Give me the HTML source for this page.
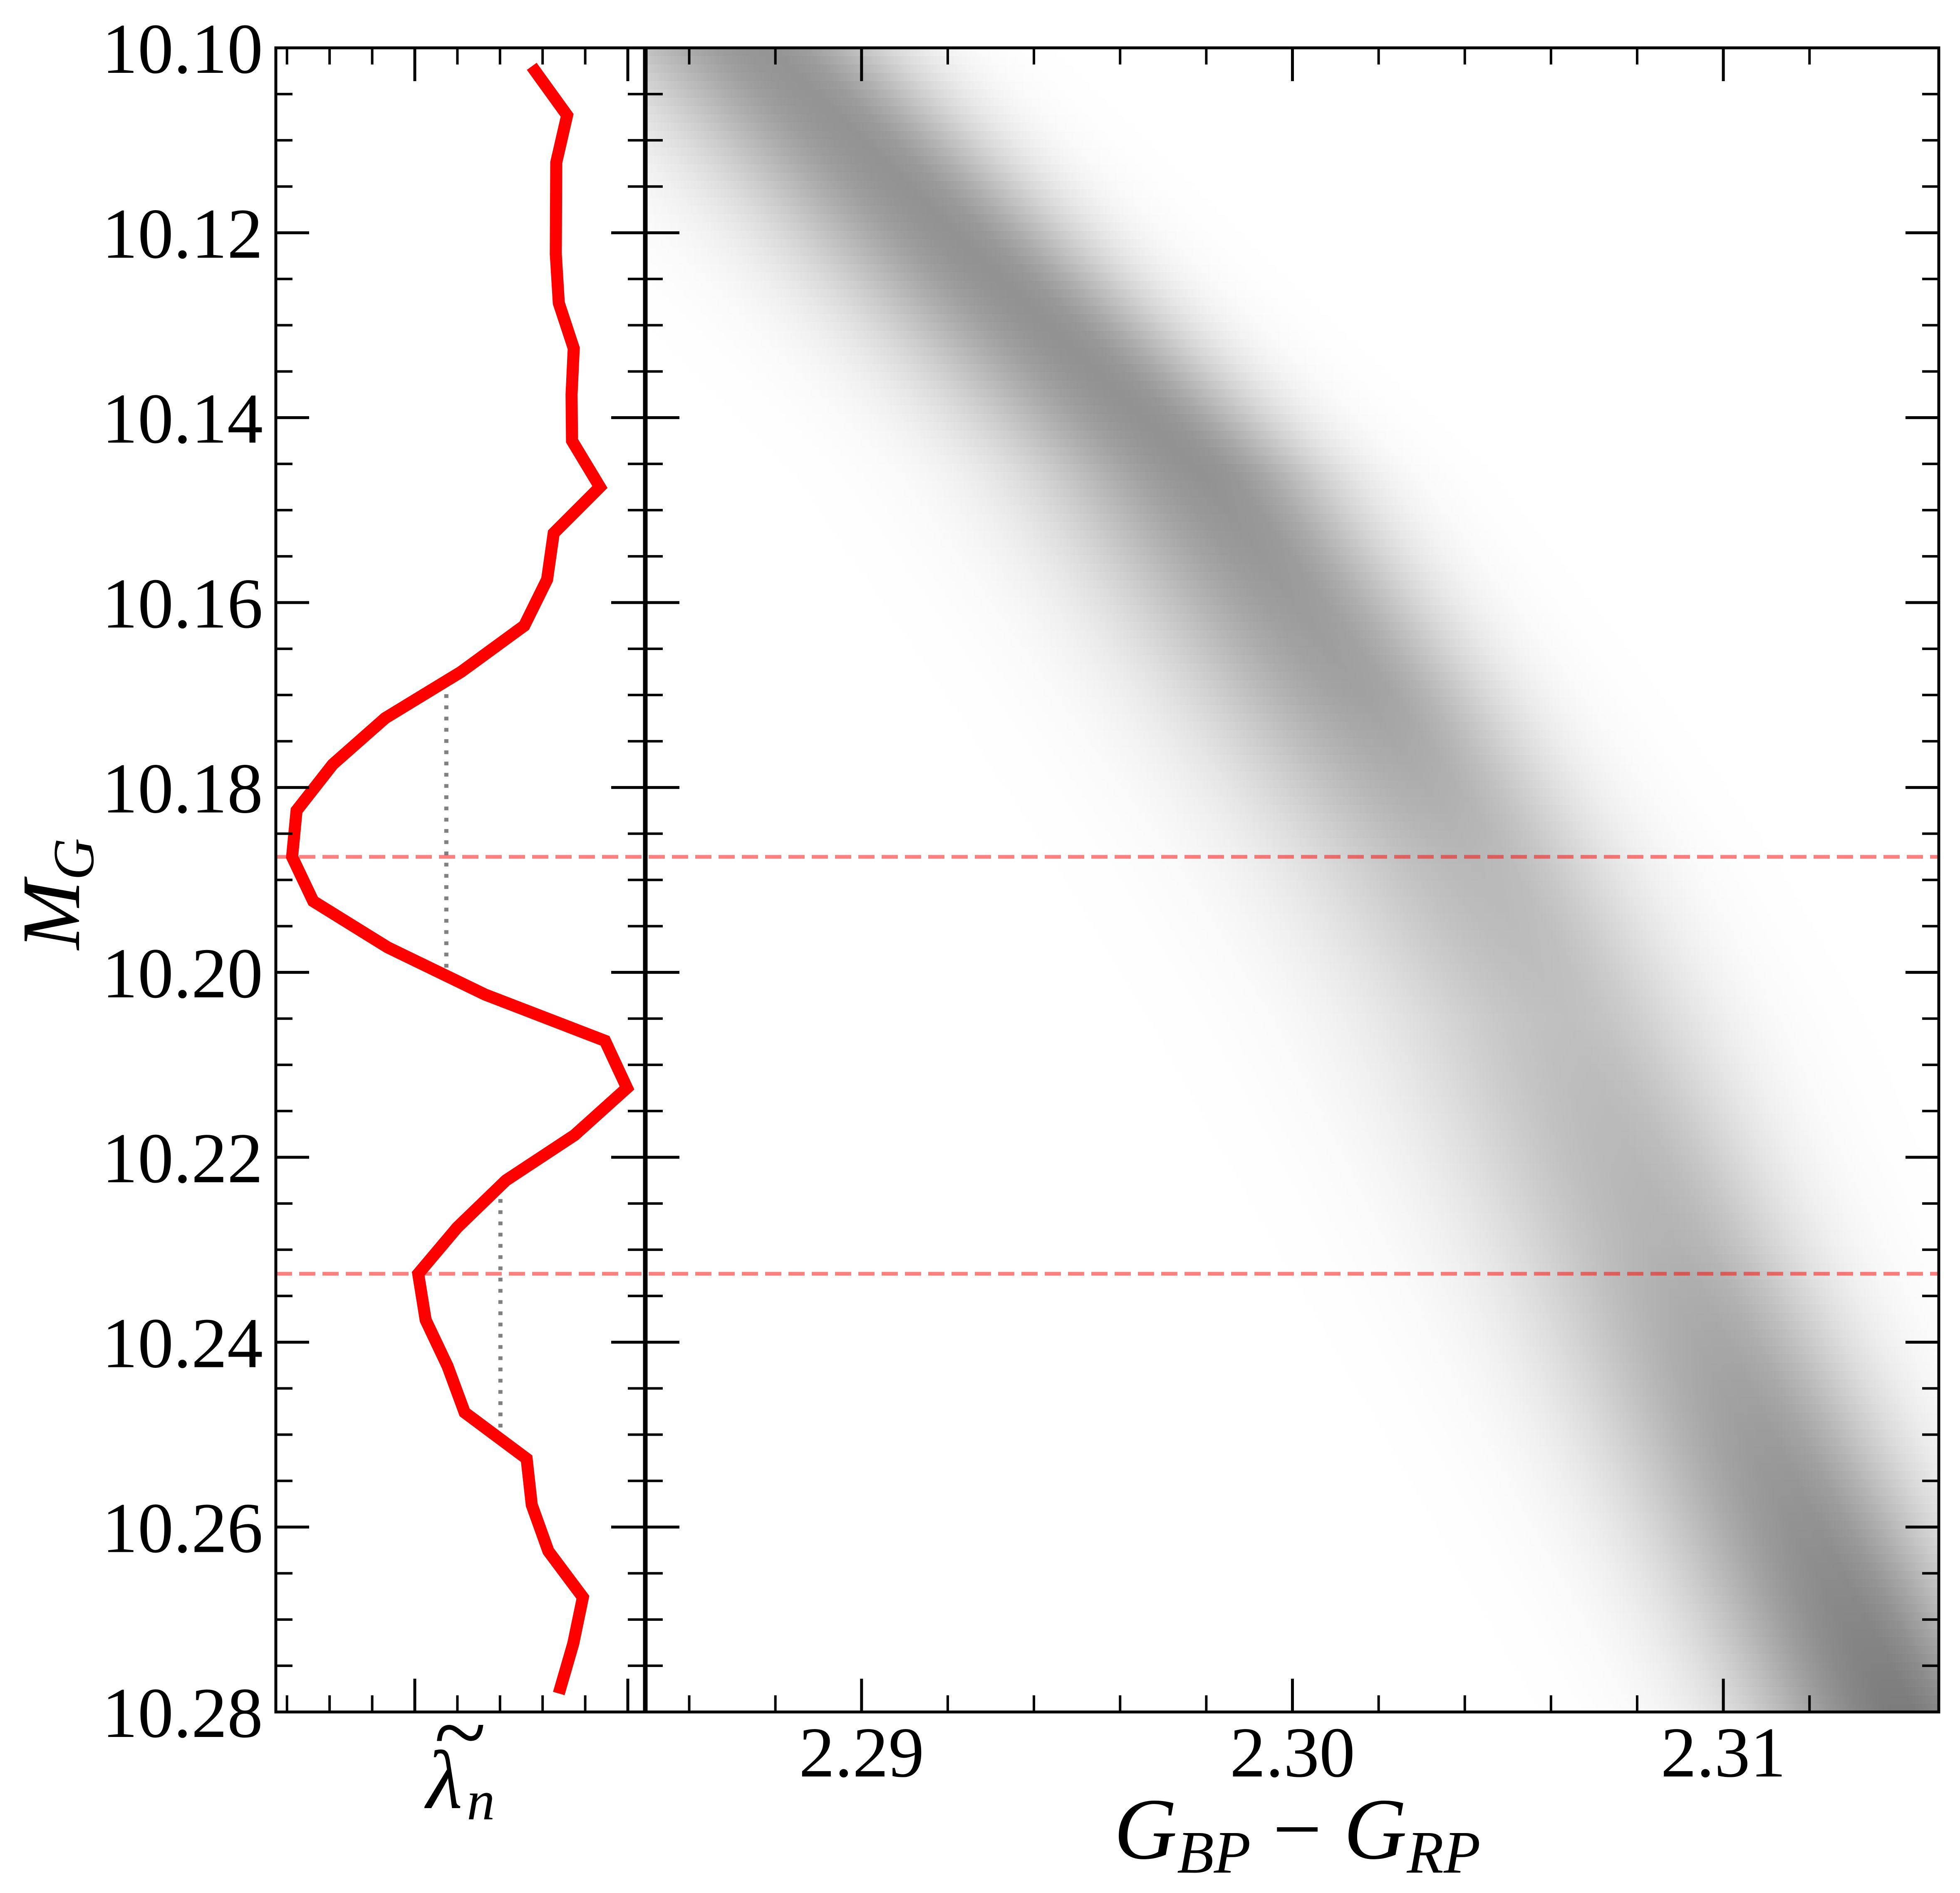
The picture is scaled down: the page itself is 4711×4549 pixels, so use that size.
<!DOCTYPE html>
<html><head><meta charset="utf-8"><title>Chart</title>
<style>html,body{margin:0;padding:0;background:#fff}svg{display:block}</style></head>
<body>
<svg id="chart" width="4711" height="4549" viewBox="0 0 4711 4549" xmlns="http://www.w3.org/2000/svg">
<rect x="0" y="0" width="4711" height="4549" fill="#fff"/>
<defs id="defs"></defs>
<g id="band"></g>
<g id="lefts"></g>
<g id="hl"></g>
<g id="ticks"></g>
<rect x="663" y="115" width="886" height="3999" fill="none" stroke="#000" stroke-width="7"/>
<rect x="1553" y="115" width="3107" height="3999" fill="none" stroke="#000" stroke-width="7"/>
<g id="ylabels" font-family="'Liberation Serif', serif" font-size="172" text-anchor="end"></g>
<g id="xlabels" font-family="'Liberation Serif', serif" font-size="172" text-anchor="middle"></g>
<text x="190" y="2148" transform="rotate(-90 190 2148)" text-anchor="middle" font-family="'Liberation Serif', serif" font-style="italic" font-size="200">M<tspan font-size="140" dy="34">G</tspan></text>
<text x="3118" y="4466" text-anchor="middle" font-family="'Liberation Serif', serif" font-size="210"><tspan font-style="italic">G</tspan><tspan font-style="italic" font-size="145" dy="34">BP</tspan><tspan dy="-34"> − </tspan><tspan font-style="italic">G</tspan><tspan font-style="italic" font-size="145" dy="34">RP</tspan></text>
<g font-family="'Liberation Serif', serif">
<text x="1068" y="4345" text-anchor="middle" font-style="italic" font-size="200">λ</text>
<text x="1106" y="4240" text-anchor="middle" font-size="230">~</text>
<text x="1122" y="4372" font-style="italic" font-size="135">n</text>
</g>
</svg>
<script>
// ---- data ----
const lamY = [10.1020,10.1073,10.1124,10.1223,10.1276,10.1325,10.1375,10.1425,10.1475,10.1525,10.1575,10.1625,10.1675,10.1725,10.1775,10.1825,10.1875,10.1923,10.1973,10.2024,10.2074,10.2125,10.2176,10.2225,10.2276,10.2326,10.2376,10.2426,10.2476,10.2526,10.2576,10.2626,10.2676,10.2726,10.2780];
const lamX = [1.549,1.715,1.664,1.662,1.676,1.746,1.736,1.738,1.869,1.652,1.621,1.514,1.217,0.861,0.615,0.445,0.424,0.523,0.873,1.330,1.893,1.996,1.750,1.428,1.199,1.016,1.051,1.154,1.234,1.525,1.549,1.627,1.789,1.744,1.676];
const dotX = [1.148, 1.402];
const dotY0 = [10.1687, 10.2233];
const dotY1 = [10.2000, 10.2496];
const hLines = [10.1875, 10.2326];
const bandY = [10.100,10.123,10.146,10.170,10.188,10.205,10.229,10.252,10.280];
const bandX = [2.2878,2.2928,2.2980,2.3017,2.3043,2.3064,2.3088,2.3112,2.3142];
const bandSigL = [0.0027,0.0028,0.0029,0.0030,0.0031,0.0031,0.0029,0.0027,0.0025];
const bandSigR = [0.0020,0.0020,0.0020,0.0021,0.0022,0.0022,0.0021,0.0020,0.0019];
const bandPeak = [0.42,0.43,0.43,0.37,0.28,0.25,0.30,0.40,0.52];
const yTickLabels = ["10.10","10.12","10.14","10.16","10.18","10.20","10.22","10.24","10.26","10.28"];
const xTickLabels = ["2.29","2.30","2.31"];

// ---- scales ----
const NS = 'http://www.w3.org/2000/svg';
const Y0 = 115, Y1 = 4114;
function yS(v){ return Y0 + (v - 10.10) / 0.18 * (Y1 - Y0); }
function yInv(p){ return 10.10 + (p - Y0) / (Y1 - Y0) * 0.18; }
function lx(u){ return 485 + 512 * u; }
const RX0 = 1553, RX1 = 4660;
function rx(v){ return RX0 + (v - 2.285) / 0.03 * (RX1 - RX0); }
function mk(tag, attrs, parent){ const e = document.createElementNS(NS, tag); for (const k in attrs) e.setAttribute(k, attrs[k]); parent.appendChild(e); return e; }
function interp(arrX, arrV, v){
  if (v <= arrX[0]) return arrV[0];
  for (let i = 1; i < arrX.length; i++) if (v <= arrX[i]) { const t = (v - arrX[i-1]) / (arrX[i] - arrX[i-1]); return arrV[i-1] + t * (arrV[i] - arrV[i-1]); }
  return arrV[arrV.length - 1];
}

// ---- density band ----
const defs = document.getElementById('defs');
const band = document.getElementById('band');
const step = 20;
let gi = 0;
for (let py = Y0; py < Y1; py += step) {
  const h = Math.min(step, Y1 - py);
  const v = yInv(py + h / 2);
  const c = interp(bandY, bandX, v), sL = interp(bandY, bandSigL, v), sR = interp(bandY, bandSigR, v), pk = interp(bandY, bandPeak, v);
  const d0 = c - 3.5 * sL, d1 = c + 3.5 * sR;
  const g = mk('linearGradient', {id: 'bg' + gi, gradientUnits: 'userSpaceOnUse', x1: rx(d0), y1: 0, x2: rx(d1), y2: 0}, defs);
  const N = 24;
  for (let k = 0; k <= N; k++) {
    const t = k / N, dv = d0 + t * (d1 - d0), d = dv - c, s = d < 0 ? sL : sR;
    mk('stop', {offset: t, 'stop-color': '#000', 'stop-opacity': (pk * Math.exp(-0.5 * (d / s) * (d / s))).toFixed(4)}, g);
  }
  const r = mk('rect', {x: RX0, y: py, width: RX1 - RX0, height: h, fill: 'url(#bg' + gi + ')', 'shape-rendering': 'crispEdges'}, band);
  
  
  gi++;
}

// ---- left panel ----
const lefts = document.getElementById('lefts');
for (let i = 0; i < dotX.length; i++) {
  const l = mk('line', {x1: lx(dotX[i]), x2: lx(dotX[i]), y1: yS(dotY0[i]), y2: yS(dotY1[i]), stroke: '#808080', 'stroke-width': 10, 'stroke-dasharray': '9 18'}, lefts);
  
  
}
const pts = lamX.map((x, i) => lx(x).toFixed(1) + ',' + yS(lamY[i]).toFixed(1)).join(' ');
const pl = mk('polyline', {points: pts, fill: 'none', stroke: '#ff0000', 'stroke-width': 29, 'stroke-linejoin': 'miter', 'stroke-miterlimit': 10, 'stroke-linecap': 'butt'}, lefts);



// ---- horizontal dashed lines ----
const hl = document.getElementById('hl');
hLines.forEach(v => {
  const l = mk('line', {x1: 663, x2: RX1, y1: yS(v), y2: yS(v), stroke: 'rgba(255,0,0,0.5)', 'stroke-width': 9, 'stroke-dasharray': '39 17'}, hl);
  
  
});

// ---- ticks ----
const tg = document.getElementById('ticks');
function tick(x1, y1, x2, y2, major){
  const l = mk('line', {x1: x1, y1: y1, x2: x2, y2: y2, stroke: '#000', 'stroke-width': major ? 7 : 6}, tg);
  
  
}
const ML = 80, mL = 40;
for (let k = 0; k <= 36; k++) {
  const v = 10.10 + k * 0.005, y = yS(v), maj = k % 4 === 0, L = maj ? ML : mL;
  tick(663, y, 663 + L, y, maj);
  tick(1549, y, 1549 - L, y, maj);
  tick(RX0, y, RX0 + L, y, maj);
  tick(RX1, y, RX1 - L, y, maj);
}
for (let k = 2; k <= 10; k++) {
  const u = k * 0.2, x = lx(u), maj = k % 5 === 0, L = maj ? ML : mL;
  tick(x, Y0, x, Y0 + L, maj);
  tick(x, Y1, x, Y1 - L, maj);
}
for (let k = 1; k <= 14; k++) {
  const v = 2.285 + 0.001 + (k - 1) * 0.002, x = rx(v), maj = (Math.round(v * 1000) % 10) === 0, L = maj ? ML : mL;
  tick(x, Y0, x, Y0 + L, maj);
  tick(x, Y1, x, Y1 - L, maj);
}

// ---- tick labels ----
const yl = document.getElementById('ylabels');
yTickLabels.forEach((s, i) => {
  const t = mk('text', {x: 632, y: yS(10.10 + i * 0.02) + 60}, yl);
  t.textContent = s;
  
  
});
const xl = document.getElementById('xlabels');
xTickLabels.forEach((s, i) => {
  const t = mk('text', {x: rx(2.29 + i * 0.01), y: 4269}, xl);
  t.textContent = s;
  
  
});
</script>
</body></html>
